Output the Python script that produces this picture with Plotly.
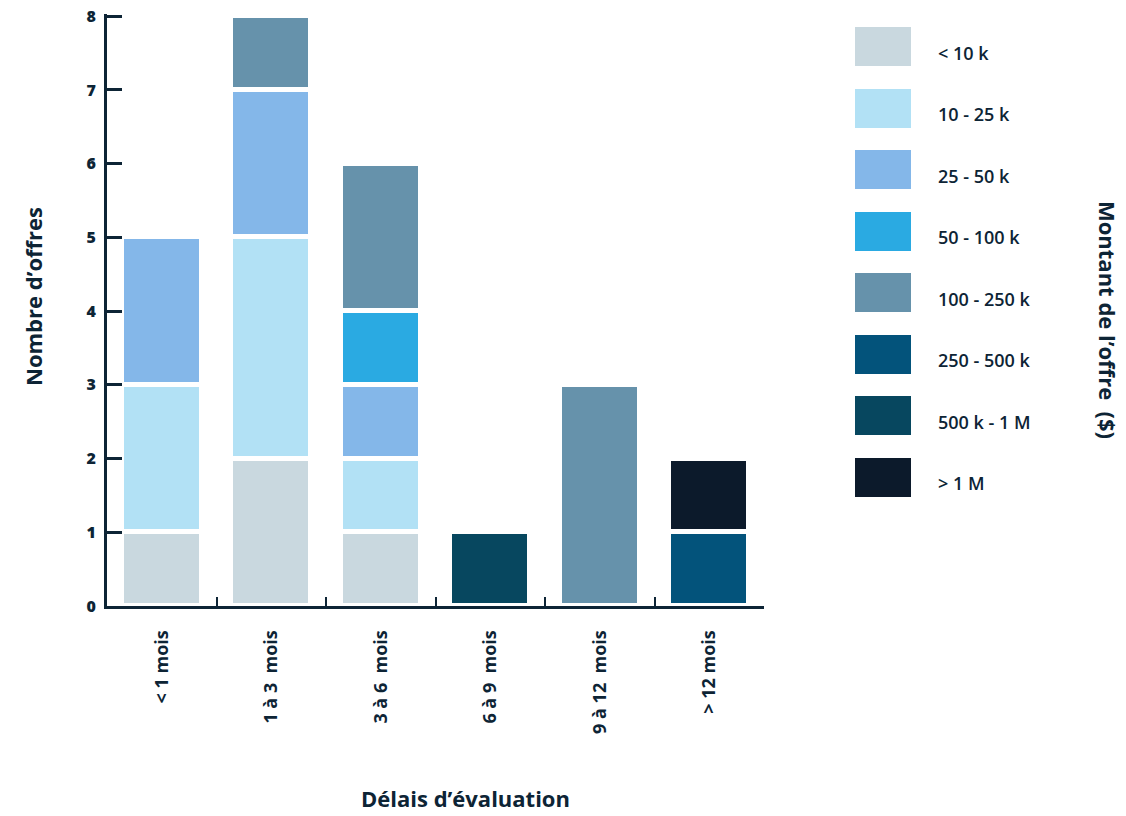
import plotly.graph_objects as go

# ---- data ----
categories = ["< 1 mois", "1 à 3\u00a0 mois", "3 à 6\u00a0 mois", "6 à 9\u00a0 mois", "9 à 12\u00a0 mois", "> 12 mois"]
amount_labels = ["< 10 k", "10 - 25 k", "25 - 50 k", "50 - 100 k", "100 - 250 k", "250 - 500 k", "500 k - 1 M", "> 1 M"]
lt_10k = [1, 2, 1, 0, 0, 0]
k10_25 = [2, 3, 1, 0, 0, 0]
k25_50 = [2, 2, 1, 0, 0, 0]
k50_100 = [0, 0, 1, 0, 0, 0]
k100_250 = [0, 1, 2, 0, 3, 0]
k250_500 = [0, 0, 0, 0, 0, 1]
k500_1M = [0, 0, 0, 1, 0, 0]
gt_1M = [0, 0, 0, 0, 0, 1]
series = [lt_10k, k10_25, k25_50, k50_100, k100_250, k250_500, k500_1M, gt_1M]
colors = ["#c9d8df", "#b2e1f5", "#84b7e9", "#2aaae2", "#6692ab", "#03537b", "#07475f", "#0c1a2b"]
y_ticks = [0, 1, 2, 3, 4, 5, 6, 7, 8]

NAVY = "#0d2435"
FONT = "Open Sans"

fig = go.Figure()
for name, vals, col in zip(amount_labels, series, colors):
    fig.add_trace(go.Bar(
        x=categories, y=[v if v else None for v in vals], name=name,
        marker=dict(color=col, line=dict(color="white", width=5)),
        width=0.73, xaxis="x", yaxis="y", showlegend=False,
    ))

# legend drawn as a small horizontal bar chart
fig.add_trace(go.Bar(
    y=amount_labels, x=[1] * len(amount_labels), orientation="h",
    marker=dict(color=colors, line=dict(width=0)), width=0.63,
    xaxis="x2", yaxis="y2", showlegend=False, hoverinfo="skip",
))

W, H = 1126, 816
L, R, T, B = 107, 0, 14, 210
pw = W - L - R
ph = H - T - B

def px_x(p):
    return (p - L) / pw

def px_y(p):
    return (H - B - p) / ph

fig.update_layout(
    width=W, height=H,
    margin=dict(l=L, r=R, t=T, b=B),
    paper_bgcolor="white", plot_bgcolor="white",
    barmode="stack", bargap=0,
    font=dict(family=FONT, color=NAVY),
    xaxis=dict(
        domain=[0, px_x(764)], range=[-0.5, 5.5], type="category",
        categoryorder="array", categoryarray=categories,
        showline=True, linecolor=NAVY, linewidth=3,
        ticks="inside", tickson="boundaries", ticklen=9, tickwidth=2, tickcolor=NAVY,
        tickangle=-90, ticklabelstandoff=14,
        tickfont=dict(family=FONT, size=18, color=NAVY, weight=700),
        showgrid=False, zeroline=False,
    ),
    yaxis=dict(
        domain=[0, 1], range=[0, 8.03], tickvals=y_ticks,
        showline=True, linecolor=NAVY, linewidth=3,
        ticks="inside", ticklen=15, tickwidth=2.5, tickcolor=NAVY,
        tickfont=dict(family=FONT, size=16, color=NAVY, weight=800),
        ticklabelstandoff=5,
        showgrid=False, zeroline=False,
    ),
    xaxis2=dict(domain=[px_x(855), px_x(911)], range=[0, 1], anchor="y2",
                visible=False, fixedrange=True),
    yaxis2=dict(domain=[px_y(508), px_y(16)], anchor="x2", type="category",
                categoryorder="array", categoryarray=amount_labels[::-1],
                visible=False, fixedrange=True),
)

# legend labels
for lab in amount_labels:
    fig.add_annotation(x=px_x(936), xref="paper", y=lab, yref="y2",
                       text=lab, showarrow=False, xanchor="left", yanchor="middle",
                       yshift=-6, font=dict(family=FONT, size=18, color=NAVY, weight=600))

# axis titles
fig.add_annotation(x=px_x(465), y=px_y(798), xref="paper", yref="paper",
                   text="Délais d’évaluation", showarrow=False,
                   xanchor="center", yanchor="middle",
                   font=dict(family=FONT, size=22, color=NAVY, weight=700))
fig.add_annotation(x=px_x(33), y=px_y(297), xref="paper", yref="paper",
                   text="Nombre d’offres", showarrow=False, textangle=-90,
                   xanchor="center", yanchor="middle",
                   font=dict(family=FONT, size=22, color=NAVY, weight=700))
fig.add_annotation(x=px_x(1108), y=px_y(320), xref="paper", yref="paper",
                   text="Montant de l’offre\u00a0 ($)", showarrow=False, textangle=90,
                   xanchor="center", yanchor="middle",
                   font=dict(family=FONT, size=22, color=NAVY, weight=700))

fig.write_html("out.html")
